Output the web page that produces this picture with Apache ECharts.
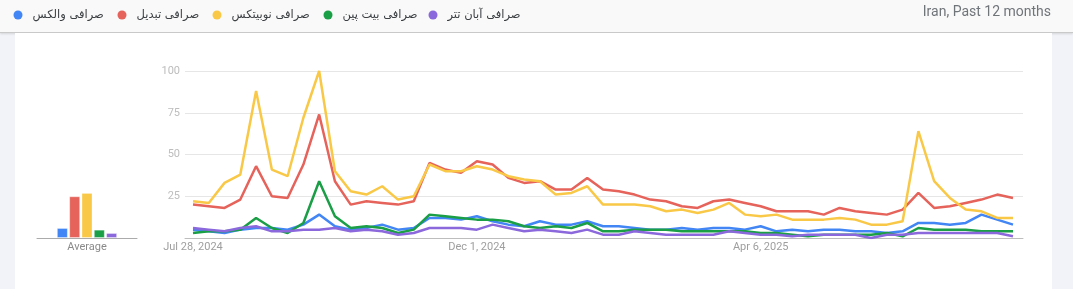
<!DOCTYPE html>
<html>
<head>
<meta charset="utf-8">
<script src="https://cdn.jsdelivr.net/npm/echarts@6/dist/echarts.min.js"></script>
<style>
  html, body { margin: 0; padding: 0; }
  body { width: 1073px; height: 289px; background: #f1f3f8; position: relative; overflow: hidden; }
  .top { position: absolute; left: 0; top: 0; width: 1073px; height: 32px; background: #f9f9f9; border-bottom: 1px solid #c9c9c9; box-shadow: 0 1px 2px rgba(0,0,0,0.12); }
  .card { position: absolute; left: 15px; top: 33px; width: 1037px; height: 256px; background: #fff; }
  #trend { position: absolute; left: 0; top: 0; width: 1073px; height: 289px; }
</style>
</head>
<body>
<div class="top"></div>
<div class="card"></div>
<div id="trend"></div>
<script>
// names and colours of the five exchanges
const names = ['صرافی والکس', 'صرافی تبدیل', 'صرافی نوبیتکس', 'صرافی بیت پین', 'صرافی آبان تتر']
const colors = ['#4285f4', '#e5635a', '#f9c846', '#1a9e46', '#8b68db']
const legendX = [18, 122, 217, 328, 433] // dot centres

// weekly values, Jul 28 2024 .. Jul 20 2025
const wallex = [5, 4, 3, 5, 6, 6, 5, 8, 14, 7, 5, 6, 8, 5, 6, 12, 12, 11, 13, 10, 8, 7, 10, 8, 8, 10, 7, 7, 6, 5, 5, 6, 5, 6, 6, 5, 7, 4, 5, 4, 5, 5, 4, 4, 3, 4, 9, 9, 8, 9, 14, 11, 8]
const tabdeal = [20, 19, 18, 23, 43, 25, 24, 44, 74, 34, 20, 22, 21, 20, 22, 45, 41, 39, 46, 44, 36, 33, 34, 29, 29, 36, 29, 28, 26, 23, 22, 19, 18, 22, 23, 21, 19, 16, 16, 16, 14, 18, 16, 15, 14, 17, 27, 18, 19, 21, 23, 26, 24]
const nobitex = [22, 21, 33, 38, 88, 41, 37, 72, 100, 40, 28, 26, 31, 23, 25, 44, 40, 40, 43, 41, 37, 35, 34, 26, 27, 31, 20, 20, 20, 19, 16, 17, 15, 17, 21, 14, 13, 14, 11, 11, 11, 12, 11, 8, 8, 10, 64, 34, 24, 17, 16, 12, 12]
const bitpin = [3, 4, 4, 5, 12, 6, 3, 9, 34, 13, 6, 7, 6, 3, 5, 14, 13, 12, 11, 11, 10, 7, 6, 7, 6, 9, 4, 4, 5, 5, 5, 4, 4, 4, 4, 4, 3, 3, 2, 1, 2, 2, 2, 2, 3, 1, 6, 5, 5, 5, 4, 4, 4]
const abantether = [6, 5, 4, 6, 7, 4, 4, 5, 5, 6, 4, 5, 4, 2, 3, 6, 6, 6, 5, 8, 6, 4, 5, 4, 3, 5, 2, 2, 4, 3, 2, 2, 2, 2, 4, 3, 2, 2, 1, 2, 2, 2, 2, 0, 2, 2, 3, 3, 3, 3, 3, 3, 1]
const averages = [6, 25, 27, 5, 3]
const yTicks = [0, 25, 50, 75, 100]

const seriesData = [wallex, tabdeal, nobitex, bitpin, abantether]

// week labels
const months = ['Jan', 'Feb', 'Mar', 'Apr', 'May', 'Jun', 'Jul', 'Aug', 'Sep', 'Oct', 'Nov', 'Dec']
const weeks = []
for (let i = 0; i < wallex.length; i++) {
  const d = new Date(Date.UTC(2024, 6, 28 + i * 7))
  weeks.push(months[d.getUTCMonth()] + ' ' + d.getUTCDate() + ', ' + d.getUTCFullYear())
}

const font = 'Roboto, Arial, sans-serif'
const chart = echarts.init(document.getElementById('trend'), null, { renderer: 'canvas' })

const legends = names.map((n, i) => ({
  data: [n],
  left: legendX[i] - 9.5,
  top: 3,
  icon: 'circle',
  itemWidth: 19,
  itemHeight: 9,
  selectedMode: false,
  textStyle: { color: '#3c4043', fontSize: 11.5, lineHeight: 14, fontFamily: '"DejaVu Sans", ' + font }
}))

const option = {
  animation: false,
  title: {
    text: 'Iran, Past 12 months',
    right: 17,
    top: 0,
    textStyle: { color: '#70757a', fontSize: 14, fontWeight: 'normal', fontFamily: font }
  },
  legend: legends,
  grid: [
    { left: 185, right: 50, top: 71, bottom: 51 }, // gridlines
    { left: 193, right: 60, top: 71, bottom: 51 }, // lines
    { left: 37, right: 936, top: 71, bottom: 51 } // average bars
  ],
  xAxis: [
    {
      gridIndex: 0, type: 'value', min: 0, max: 1,
      axisLine: { show: true, lineStyle: { color: '#bdbdbd', width: 1 } },
      axisTick: { show: false }, axisLabel: { show: false }, splitLine: { show: false }
    },
    {
      gridIndex: 1, type: 'category', boundaryGap: false, data: weeks,
      axisLine: { show: false }, axisTick: { show: false }, splitLine: { show: false },
      axisLabel: { interval: 17, margin: 4, color: '#9e9e9e', fontSize: 11, fontFamily: font }
    },
    {
      gridIndex: 2, type: 'category', data: ['Average'],
      axisLine: { show: true, lineStyle: { color: '#ababab', width: 1 } },
      axisTick: { show: false },
      axisLabel: { margin: 4, color: '#8a8a8a', fontSize: 11, fontFamily: font }
    }
  ],
  yAxis: [
    {
      gridIndex: 0, type: 'value', min: yTicks[0], max: yTicks[yTicks.length - 1], interval: 25,
      axisLine: { show: false }, axisTick: { show: false },
      axisLabel: { margin: 5, color: '#bdbdbd', fontSize: 11, fontFamily: font, formatter: v => v === 0 ? '' : v },
      splitLine: { lineStyle: { color: '#e6e6e6', width: 1 } }
    },
    { gridIndex: 1, type: 'value', min: 0, max: 100, show: false },
    { gridIndex: 2, type: 'value', min: 0, max: 100, show: false }
  ],
  series: [
    ...names.map((n, i) => ({
      name: n,
      type: 'line',
      xAxisIndex: 1,
      yAxisIndex: 1,
      data: seriesData[i],
      showSymbol: false,
      lineStyle: { color: colors[i], width: 2.5 },
      itemStyle: { color: colors[i] }
    })),
    ...names.map((n, i) => ({
      name: n,
      type: 'bar',
      xAxisIndex: 2,
      yAxisIndex: 2,
      data: [averages[i]],
      barWidth: 11,
      barGap: '12%',
      itemStyle: { color: colors[i], borderColor: 'rgba(255,255,255,0.35)', borderWidth: 1 }
    }))
  ]
}
chart.setOption(option)
</script>
</body>
</html>
